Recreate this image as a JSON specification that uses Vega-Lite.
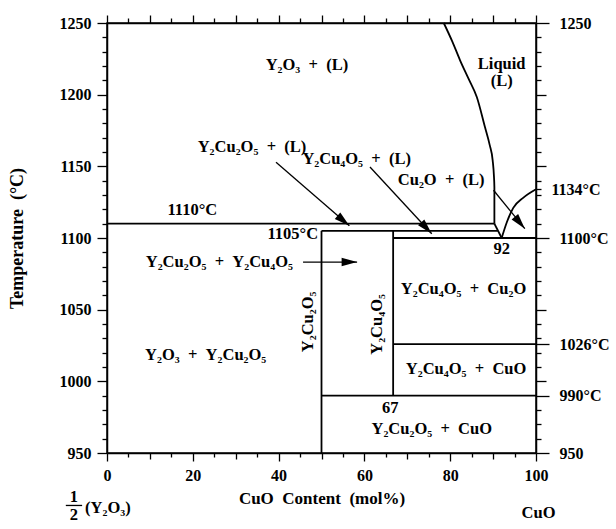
{
  "$schema": "https://vega.github.io/schema/vega-lite/v6.json",
  "width": 429,
  "height": 430,
  "autosize": {"type": "none"},
  "padding": {"left": 107, "top": 23, "right": 80, "bottom": 76},
  "background": "white",
  "config": {
    "view": {"stroke": "black", "strokeWidth": 1.5},
    "axis": {
      "domainColor": "black", "domainWidth": 1.5, "tickColor": "black", "tickWidth": 1.3,
      "labelColor": "black", "labelFont": "Liberation Serif", "labelFontWeight": "bold", "labelFontSize": 16,
      "titleColor": "black", "titleFont": "Liberation Serif", "titleFontWeight": "bold", "titleFontSize": 17,
      "grid": false, "labelOverlap": false, "labelFlush": false
    },
    "text": {"font": "Liberation Serif", "fontWeight": "bold", "fontSize": 16.5, "color": "black"}
  },
  "datasets": {
    "bounds": [
      {"id": "t1110", "o": 0, "x": 0, "y": 1110}, {"id": "t1110", "o": 1, "x": 90.3, "y": 1110},
      {"id": "t1105", "o": 0, "x": 50, "y": 1105}, {"id": "t1105", "o": 1, "x": 91.1, "y": 1105},
      {"id": "eut", "o": 0, "x": 90.3, "y": 1110}, {"id": "eut", "o": 1, "x": 92, "y": 1100},
      {"id": "liq", "o": 0, "x": 78.5, "y": 1250}, {"id": "liq", "o": 1, "x": 80.5, "y": 1237},
      {"id": "liq", "o": 2, "x": 82.3, "y": 1224},
      {"id": "liq", "o": 3, "x": 84.3, "y": 1211}, {"id": "liq", "o": 4, "x": 86.2, "y": 1198.4},
      {"id": "liq", "o": 5, "x": 88.1, "y": 1177.4}, {"id": "liq", "o": 6, "x": 89.2, "y": 1165},
      {"id": "liq", "o": 7, "x": 89.9, "y": 1154.2}, {"id": "liq", "o": 8, "x": 90.2, "y": 1143},
      {"id": "liq", "o": 9, "x": 90.3, "y": 1135.6},
      {"id": "liq", "o": 10, "x": 90.3, "y": 1110},
      {"id": "cu2o", "o": 0, "x": 92, "y": 1100}, {"id": "cu2o", "o": 1, "x": 93.2, "y": 1111},
      {"id": "cu2o", "o": 2, "x": 94.7, "y": 1121}, {"id": "cu2o", "o": 3, "x": 97, "y": 1128},
      {"id": "cu2o", "o": 4, "x": 100, "y": 1134},
      {"id": "t1100", "o": 0, "x": 66.7, "y": 1100}, {"id": "t1100", "o": 1, "x": 100, "y": 1100},
      {"id": "v50", "o": 0, "x": 50, "y": 1105}, {"id": "v50", "o": 1, "x": 50, "y": 950},
      {"id": "v67", "o": 0, "x": 66.7, "y": 1105}, {"id": "v67", "o": 1, "x": 66.7, "y": 990},
      {"id": "t990", "o": 0, "x": 50, "y": 990}, {"id": "t990", "o": 1, "x": 100, "y": 990},
      {"id": "t1026", "o": 0, "x": 66.7, "y": 1026}, {"id": "t1026", "o": 1, "x": 100, "y": 1026}
    ],
    "arrows": [
      {"id": "a1", "o": 0, "x": 39.4, "y": 1152.8}, {"id": "a1", "o": 1, "x": 56.5, "y": 1108.5},
      {"id": "a2", "o": 0, "x": 61.3, "y": 1149.5}, {"id": "a2", "o": 1, "x": 75.7, "y": 1103},
      {"id": "a3", "o": 0, "x": 90.1, "y": 1133.3}, {"id": "a3", "o": 1, "x": 97.4, "y": 1106.5},
      {"id": "a4", "o": 0, "x": 45.7, "y": 1083.2}, {"id": "a4", "o": 1, "x": 58.3, "y": 1083.2}
    ],
    "labelsC": [
      {"x": 46.6, "y": 1217, "t": "Y₂O₃ \u00a0+ \u00a0(L)"},
      {"x": 92.0, "y": 1218, "t": "Liquid"},
      {"x": 92.0, "y": 1205.8, "t": "(L)"},
      {"x": 33.8, "y": 1160, "t": "Y₂Cu₂O₅ \u00a0+ \u00a0(L)"},
      {"x": 58.2, "y": 1151.9, "t": "Y₂Cu₄O₅ \u00a0+ \u00a0(L)"},
      {"x": 77.9, "y": 1136.7, "t": "Cu₂O \u00a0+ \u00a0(L)"},
      {"x": 19.9, "y": 1115.8, "t": "1110°C"},
      {"x": 92.0, "y": 1089, "t": "92"},
      {"x": 26.2, "y": 1079.7, "t": "Y₂Cu₂O₅ \u00a0+ \u00a0Y₂Cu₄O₅"},
      {"x": 83.1, "y": 1061.2, "t": "Y₂Cu₄O₅ \u00a0+ \u00a0Cu₂O"},
      {"x": 23.0, "y": 1014.6, "t": "Y₂O₃ \u00a0+ \u00a0Y₂Cu₂O₅"},
      {"x": 83.7, "y": 1005.3, "t": "Y₂Cu₄O₅ \u00a0+ \u00a0CuO"},
      {"x": 66.0, "y": 977.8, "t": "67"},
      {"x": 75.7, "y": 963.3, "t": "Y₂Cu₂O₅ \u00a0+ \u00a0CuO"},
      {"x": -7.7, "y": 915.5, "t": "1"},
      {"x": -7.7, "y": 903, "t": "2"},
      {"x": 100.6, "y": 905, "t": "CuO"}
    ],
    "labelsR": [{"x": 49.2, "y": 1099.5, "t": "1105°C"}],
    "labelsL": [{"x": -5.1, "y": 907.9, "t": "(Y₂O₃)"}],
    "labelsV": [
      {"x": 48.1, "y": 1041.5, "t": "Y₂Cu₂O₅"},
      {"x": 64.0, "y": 1039.7, "t": "Y₂Cu₄O₅"}
    ],
    "frac": [{"x": -9.6, "x2": -5.8, "y": 913.4}],
    "heads": [
      {"id": "a1", "x": 56.5, "y": 1108.5},
      {"id": "a2", "x": 75.7, "y": 1103},
      {"id": "a3", "x": 97.4, "y": 1106.5},
      {"id": "a4", "x": 58.3, "y": 1083.2}
    ]
  },
  "layer": [
    {
      "data": {"name": "bounds"},
      "mark": {"type": "line", "color": "black", "strokeWidth": 1.8, "clip": false, "interpolate": "monotone"},
      "encoding": {
        "x": {"field": "x", "type": "quantitative", "scale": {"domain": [0, 100], "nice": false, "zero": false},
          "axis": {"orient": "bottom", "values": [0,5,10,15,20,25,30,35,40,45,50,55,60,65,70,75,80,85,90,95,100],
            "labelExpr": "datum.value % 20 === 0 ? datum.label : ''", "labelPadding": 6,
            "tickSize": {"condition": [{"test": "datum.value % 20 === 0", "value": 8}, {"test": "datum.value % 10 === 0", "value": 6}], "value": 4},
            "title": "CuO\u00a0 Content\u00a0 (mol%)", "titlePadding": 7}},
        "y": {"field": "y", "type": "quantitative", "scale": {"domain": [950, 1250], "nice": false, "zero": false},
          "axis": {"orient": "left", "values": [950,960,970,980,990,1000,1010,1020,1030,1040,1050,1060,1070,1080,1090,1100,1110,1120,1130,1140,1150,1160,1170,1180,1190,1200,1210,1220,1230,1240,1250],
            "format": "d", "labelExpr": "datum.value % 50 === 0 ? datum.label : ''", "labelPadding": 6,
            "tickSize": {"condition": {"test": "datum.value % 50 === 0", "value": 10}, "value": 5},
            "title": "Temperature\u00a0 (°C)", "titlePadding": 33, "titleFontSize": 18}},
        "detail": {"field": "id"},
        "order": {"field": "o", "type": "quantitative"}
      }
    },
    {
      "data": {"name": "arrows"},
      "mark": {"type": "line", "color": "black", "strokeWidth": 1.3},
      "encoding": {
        "x": {"field": "x", "type": "quantitative",
          "axis": {"orient": "top", "values": [0,5,10,15,20,25,30,35,40,45,50,55,60,65,70,75,80,85,90,95,100], "labels": false,
            "tickSize": {"condition": {"test": "datum.value % 10 === 0", "value": 8}, "value": 5}, "title": null}},
        "y": {"field": "y", "type": "quantitative",
          "axis": {"orient": "right", "values": [950,960,970,980,990,1000,1010,1020,1026,1030,1040,1050,1060,1070,1080,1090,1100,1110,1120,1130,1134,1140,1150,1160,1170,1180,1190,1200,1210,1220,1230,1240,1250],
            "format": "d", "labelPadding": 10,
            "labelExpr": "(datum.value === 1250 || datum.value === 950) ? datum.label : ((datum.value === 990 || datum.value === 1026 || datum.value === 1100 || datum.value === 1134) ? datum.label + '°C' : '')",
            "tickSize": {"condition": [{"test": "datum.value === 1250 || datum.value === 1100 || datum.value === 990 || datum.value === 950 || datum.value === 1026", "value": 13}, {"test": "datum.value % 50 === 0", "value": 10}], "value": 5},
            "title": null}},
        "detail": {"field": "id"},
        "order": {"field": "o", "type": "quantitative"}
      }
    },
    {"data": {"name": "heads"}, "transform": [{"filter": "datum.id === 'a1'"}],
      "mark": {"type": "point", "shape": "M0,0L-2,-0.55L-2,0.55Z", "filled": true, "color": "black", "opacity": 1, "size": 240, "angle": 40},
      "encoding": {"x": {"field": "x", "type": "quantitative", "axis": null}, "y": {"field": "y", "type": "quantitative", "axis": null}}},
    {"data": {"name": "heads"}, "transform": [{"filter": "datum.id === 'a2'"}],
      "mark": {"type": "point", "shape": "M0,0L-2,-0.55L-2,0.55Z", "filled": true, "color": "black", "opacity": 1, "size": 240, "angle": 47},
      "encoding": {"x": {"field": "x", "type": "quantitative", "axis": null}, "y": {"field": "y", "type": "quantitative", "axis": null}}},
    {"data": {"name": "heads"}, "transform": [{"filter": "datum.id === 'a3'"}],
      "mark": {"type": "point", "shape": "M0,0L-2,-0.55L-2,0.55Z", "filled": true, "color": "black", "opacity": 1, "size": 240, "angle": 50},
      "encoding": {"x": {"field": "x", "type": "quantitative", "axis": null}, "y": {"field": "y", "type": "quantitative", "axis": null}}},
    {"data": {"name": "heads"}, "transform": [{"filter": "datum.id === 'a4'"}],
      "mark": {"type": "point", "shape": "M0,0L-2,-0.55L-2,0.55Z", "filled": true, "color": "black", "opacity": 1, "size": 240, "angle": 0},
      "encoding": {"x": {"field": "x", "type": "quantitative", "axis": null}, "y": {"field": "y", "type": "quantitative", "axis": null}}},
    {"data": {"name": "labelsC"},
      "mark": {"type": "text", "align": "center", "baseline": "alphabetic"},
      "encoding": {"x": {"field": "x", "type": "quantitative", "axis": null}, "y": {"field": "y", "type": "quantitative", "axis": null}, "text": {"field": "t"}}},
    {"data": {"name": "labelsR"},
      "mark": {"type": "text", "align": "right", "baseline": "alphabetic"},
      "encoding": {"x": {"field": "x", "type": "quantitative", "axis": null}, "y": {"field": "y", "type": "quantitative", "axis": null}, "text": {"field": "t"}}},
    {"data": {"name": "labelsL"},
      "mark": {"type": "text", "align": "left", "baseline": "alphabetic"},
      "encoding": {"x": {"field": "x", "type": "quantitative", "axis": null}, "y": {"field": "y", "type": "quantitative", "axis": null}, "text": {"field": "t"}}},
    {"data": {"name": "labelsV"},
      "mark": {"type": "text", "align": "center", "baseline": "alphabetic", "angle": 270},
      "encoding": {"x": {"field": "x", "type": "quantitative", "axis": null}, "y": {"field": "y", "type": "quantitative", "axis": null}, "text": {"field": "t"}}},
    {"data": {"name": "frac"},
      "mark": {"type": "rule", "color": "black", "strokeWidth": 1.3},
      "encoding": {"x": {"field": "x", "type": "quantitative", "axis": null}, "x2": {"field": "x2"}, "y": {"field": "y", "type": "quantitative", "axis": null}}}
  ],
  "resolve": {"axis": {"x": "independent", "y": "independent"}}
}
